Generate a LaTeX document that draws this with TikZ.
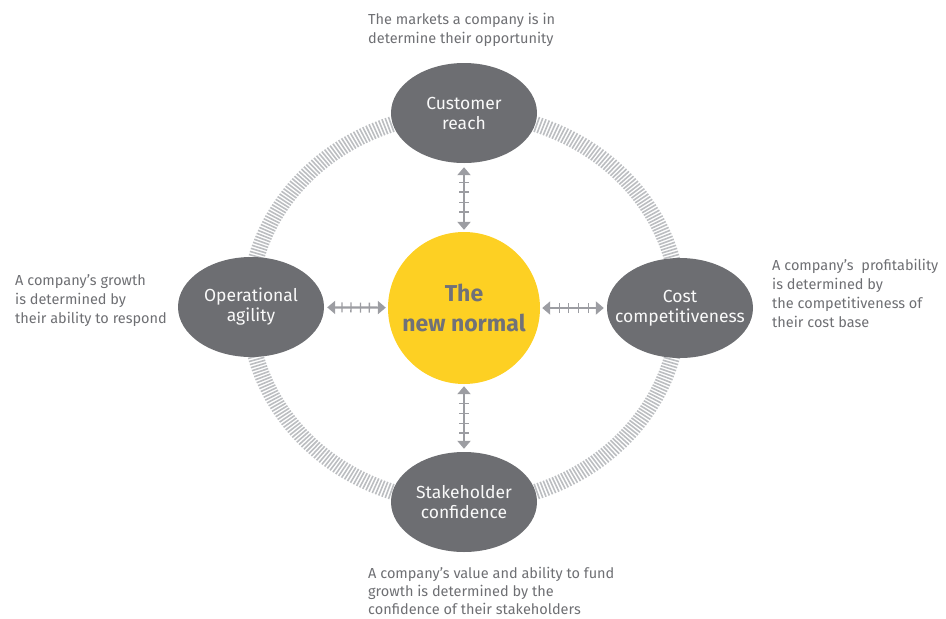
\documentclass[tikz,border=0pt]{standalone}
\usepackage{fontspec}
\setmainfont{Fira Sans}
\usetikzlibrary{shapes.geometric,arrows.meta,decorations.markings}
\definecolor{hubgray}{HTML}{6D6E72}
\definecolor{ringgray}{HTML}{BCBEC1}
\definecolor{arrowgray}{HTML}{9C9DA2}
\definecolor{coreyellow}{HTML}{FDD023}
\definecolor{coretext}{HTML}{707178}
\definecolor{notetext}{HTML}{6E6F73}
\tikzset{
  driver/.style={ellipse, fill=hubgray, draw=none, minimum width=146pt, minimum height=100pt,
    inner xsep=-14pt, inner ysep=0pt, align=center, text=white!95!gray,
    font=\fontsize{17.5}{20}\selectfont},
  core/.style={circle, fill=coreyellow, draw=none, minimum size=152pt, inner sep=0pt,
    align=center, text=coretext, font=\fontsize{23}{30}\selectfont\bfseries},
  note/.style={align=left, text=notetext, font=\fontsize{14.5}{19}\selectfont, inner sep=0pt},
  tick/.style={draw=arrowgray, line width=1.3pt, -, shorten <=0pt, shorten >=0pt},
  link/.style={draw=arrowgray, line width=2.2pt,
    {Triangle[width=13pt,length=8pt]}-{Triangle[width=13pt,length=8pt]},
    postaction={decorate, decoration={markings,
      mark=at position 0.28 with {\draw[tick] (0,-5) -- (0,5);},
      mark=at position 0.42 with {\draw[tick] (0,-5) -- (0,5);},
      mark=at position 0.57 with {\draw[tick] (0,-5) -- (0,5);},
      mark=at position 0.71 with {\draw[tick] (0,-5) -- (0,5);}}}},
  stripe/.style={draw=ringgray, line width=1.6pt}
}
\begin{document}
\begin{tikzpicture}[x=1pt,y=-1pt]
\useasboundingbox (0,0) rectangle (946,619);

% striped ring behind the four drivers
\foreach \t in {0,0.9,...,359.5}{
  \draw[stripe] ({464+207*cos(\t)},{308+187*sin(\t)}) -- ({464+223*cos(\t)},{308+203*sin(\t)});
}

% hub and drivers
\node[core] (core) at (464,308) {The\\new normal};
\node[driver] (reach) at (464,113) {Customer\\reach};
\node[driver] (agility) at (251,307) {Operational\\agility};
\node[driver] (cost) at (680,308) {Cost\\competitiveness};
\node[driver] (trust) at (464,502) {Stakeholder\\confidence};

% two-way links between hub and drivers
\draw[link, shorten <=4pt, shorten >=2pt] (reach) -- (core);
\draw[link, shorten <=3pt, shorten >=2pt] (agility) -- (core);
\draw[link, shorten <=3pt, shorten >=2pt] (cost) -- (core);
\draw[link, shorten <=3pt, shorten >=2pt] (trust) -- (core);

% captions
\node[note, anchor=north west] (reachnote) at (368,13) {The markets a company is in\\determine their opportunity};
\node[note, anchor=north west] (agilitynote) at (15,274) {A company’s growth\\is determined by\\their ability to respond};
\node[note, anchor=north west] (costnote) at (772,259) {A company’s~ profitability\\is determined by\\the competitiveness of\\their cost base};
\node[note, anchor=north west, font=\fontsize{14.5}{18}\selectfont] (trustnote) at (368,567)
  {A company’s value and ability to fund\\growth is determined by the\\confidence of their stakeholders};
\end{tikzpicture}
\end{document}
